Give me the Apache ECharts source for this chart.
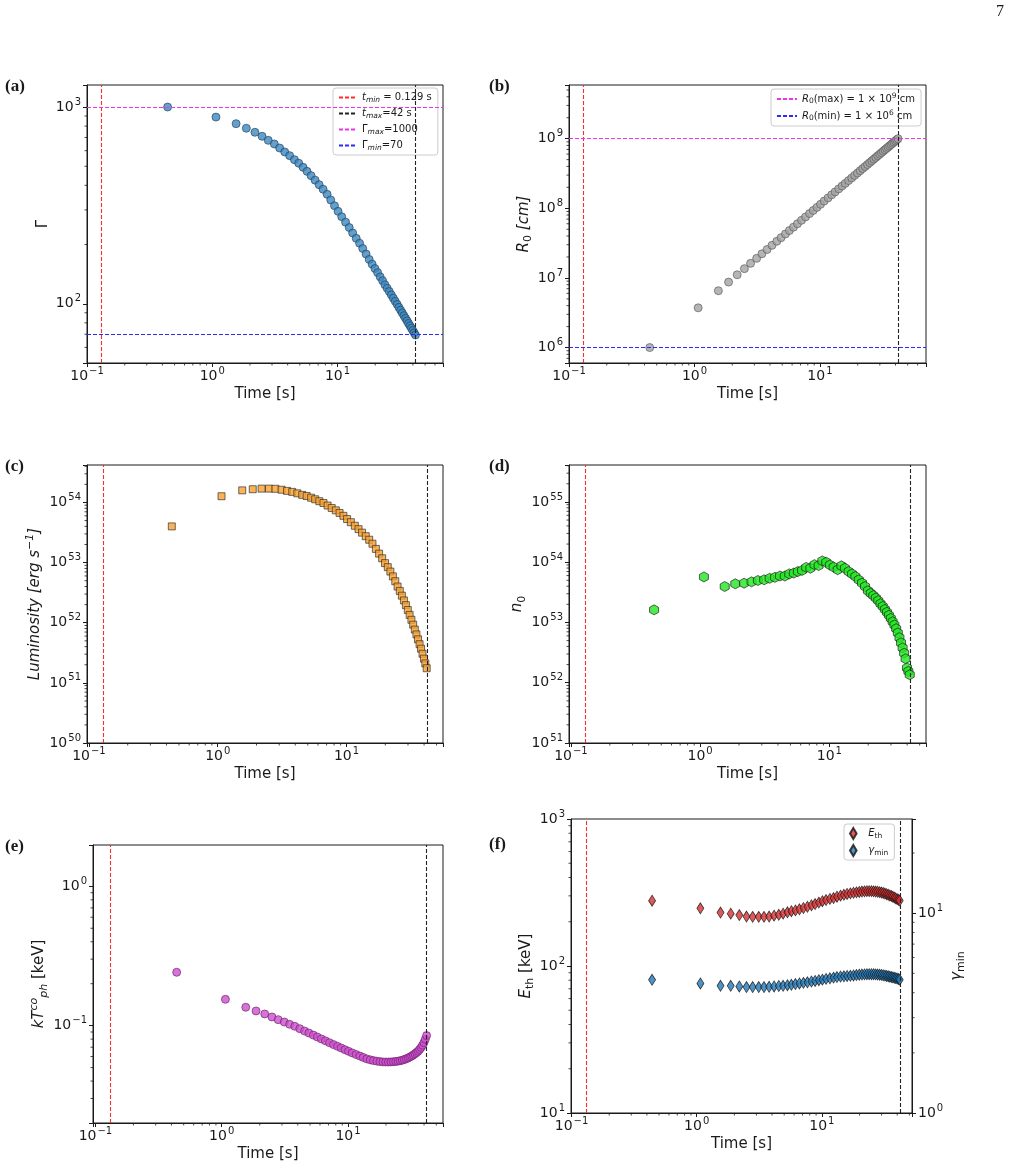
<!DOCTYPE html>
<html>
<head>
<meta charset="utf-8">
<script src="https://cdn.jsdelivr.net/npm/echarts@6/dist/echarts.min.js"></script>
<style>
  html, body { margin: 0; padding: 0; background: #fff; }
  #chart { width: 1014px; height: 1167px; }
</style>
</head>
<body>
<div id="chart"></div>
<script>
// time bins [s], shared by all panels
const time = [0.44, 1.07, 1.55, 1.87, 2.19, 2.50, 2.80, 3.13, 3.45, 3.79,
  4.15, 4.53, 4.90, 5.31, 5.71, 6.15, 6.62, 7.13, 7.67, 8.26,
  8.83, 9.46, 10.1, 10.8, 11.6, 12.4, 13.2, 14.1, 15.0, 15.9,
  16.9, 17.9, 18.9, 19.9, 20.9, 21.9, 22.9, 23.9, 24.9, 25.9,
  26.9, 27.9, 28.9, 29.9, 30.9, 31.9, 32.9, 33.9, 34.9, 35.9,
  36.9, 37.9, 38.9, 39.9, 40.9, 41.9];

// (a) bulk Lorentz factor
const gamma = [1000, 889, 823, 780, 744, 710, 677, 649, 619, 591,
  566, 540, 518, 494, 471, 448, 425, 403, 382, 360,
  337, 315, 295, 277, 260, 244, 229, 215, 203, 191,
  179, 168, 159, 151, 144, 137, 131, 125, 120, 115.4,
  110.9, 106.8, 102.9, 99.3, 95.9, 92.8, 89.8, 87.0, 84.4, 81.9,
  79.5, 77.3, 75.2, 73.1, 71.2, 69.4];

// (b) R0 [cm]
const radius = [1.0e6, 3.72e6, 6.55e6, 8.72e6, 1.11e7, 1.36e7, 1.62e7, 1.91e7, 2.22e7, 2.56e7,
  2.94e7, 3.36e7, 3.79e7, 4.28e7, 4.79e7, 5.36e7, 6.0e7, 6.72e7, 7.51e7, 8.41e7,
  9.31e7, 1.03e8, 1.14e8, 1.27e8, 1.41e8, 1.56e8, 1.72e8, 1.90e8, 2.09e8, 2.28e8,
  2.50e8, 2.73e8, 2.97e8, 3.21e8, 3.46e8, 3.72e8, 3.98e8, 4.25e8, 4.52e8, 4.80e8,
  5.09e8, 5.38e8, 5.68e8, 5.98e8, 6.29e8, 6.60e8, 6.92e8, 7.24e8, 7.56e8, 7.90e8,
  8.24e8, 8.58e8, 8.93e8, 9.28e8, 9.64e8, 1.0e9];

// (c) luminosity [erg/s]
const luminosity = [4.0e53, 1.27e54, 1.59e54, 1.66e54, 1.70e54, 1.70e54, 1.69e54, 1.63e54, 1.56e54, 1.50e54,
  1.42e54, 1.34e54, 1.28e54, 1.20e54, 1.13e54, 1.05e54, 9.8e53, 8.9e53, 8.1e53, 7.4e53,
  6.7e53, 6.0e53, 5.3e53, 4.7e53, 4.1e53, 3.6e53, 3.15e53, 2.75e53, 2.4e53, 2.06e53,
  1.69e53, 1.41e53, 1.18e53, 9.8e52, 8.4e52, 7.1e52, 5.9e52, 4.9e52, 4.0e52, 3.38e52,
  2.82e52, 2.35e52, 1.96e52, 1.63e52, 1.35e52, 1.12e52, 9.3e51, 7.7e51, 6.4e51, 5.3e51,
  4.4e51, 3.7e51, 3.05e51, 2.53e51, 2.11e51, 1.75e51];

// (d) n0
const density = [1.62e53, 5.7e53, 3.95e53, 4.38e53, 4.49e53, 4.72e53, 4.97e53, 5.1e53, 5.4e53, 5.6e53,
  5.9e53, 5.9e53, 6.4e53, 6.6e53, 7.0e53, 7.3e53, 8.2e53, 7.95e53, 9.1e53, 8.8e53,
  1.05e54, 1.0e54, 9.0e53, 8.3e53, 7.5e53, 8.7e53, 7.95e53, 7.0e53, 6.4e53, 5.8e53,
  5.1e53, 4.5e53, 3.95e53, 3.36e53, 3.05e53, 2.8e53, 2.55e53, 2.3e53, 2.05e53, 1.85e53,
  1.65e53, 1.48e53, 1.32e53, 1.17e53, 1.03e53, 9.1e52, 7.9e52, 6.7e52, 5.6e52, 4.6e52,
  3.8e52, 3.1e52, 2.5e52, 1.76e52, 1.55e52, 1.36e52];

// (e) comoving photospheric temperature [keV]
const kTph = [0.2415, 0.1545, 0.1355, 0.1274, 0.1213, 0.1154, 0.1104, 0.1062, 0.1022, 0.0989,
  0.0951, 0.0915, 0.0885, 0.0855, 0.0829, 0.0803, 0.0778, 0.0754, 0.0731, 0.0710,
  0.0691, 0.0672, 0.0654, 0.0637, 0.0620, 0.0605, 0.0591, 0.0577, 0.0568, 0.0561,
  0.0556, 0.0552, 0.0549, 0.0548, 0.0548, 0.0549, 0.0551, 0.0553, 0.0556, 0.0560,
  0.0565, 0.0571, 0.0578, 0.0586, 0.0595, 0.0605, 0.0616, 0.0628, 0.0641, 0.0656,
  0.0675, 0.0697, 0.0723, 0.0755, 0.0797, 0.0848];

// (f) E_th [keV] (left axis) and gamma_min (right axis)
const eTh = [278, 247, 231, 227, 222, 217, 216, 216, 216, 217,
  220, 223, 227, 232, 236, 239, 243, 248, 253, 259,
  264, 270, 276, 281, 286, 290, 296, 301, 305, 309,
  312, 315, 317, 319, 321, 322, 323, 323, 323, 322,
  321, 320, 318, 316, 314, 311, 308, 305, 302, 299,
  296, 292, 289, 285, 282, 279];
const gammaMin = [4.64, 4.45, 4.33, 4.33, 4.30, 4.27, 4.27, 4.27, 4.27, 4.28,
  4.30, 4.32, 4.33, 4.36, 4.38, 4.42, 4.45, 4.48, 4.51, 4.55,
  4.58, 4.62, 4.65, 4.69, 4.72, 4.76, 4.79, 4.82, 4.83, 4.85,
  4.86, 4.88, 4.90, 4.92, 4.93, 4.94, 4.95, 4.95, 4.95, 4.95,
  4.94, 4.93, 4.92, 4.91, 4.89, 4.87, 4.85, 4.83, 4.81, 4.79,
  4.77, 4.75, 4.73, 4.71, 4.68, 4.65];

// reference lines
const tMin = 0.129, tMax = 42;
const gammaMaxLine = 1000, gammaMinLine = 70;
const r0MaxLine = 1e9, r0MinLine = 1e6;

const FONT = 'DejaVu Sans';
const INK = '#1a1a1a';
const RED = '#ff2a2a', BLACK = '#222222', MAGENTA = '#ee33ee', BLUE = '#2b2bff';
const DASH = [4, 2];

// panel frames: left, top, width, height and axis ranges
const panels = [
  { box: [87, 85, 356, 278], x: [0.1, 69.5], y: [50, 1294], yGap: 32 },
  { box: [569, 85, 357, 278], x: [0.1, 70], y: [6e5, 5.9e9], yGap: 31 },
  { box: [87, 465, 356, 278], x: [0.0966, 56.1], y: [1e50, 4.2e54], yGap: 38 },
  { box: [569, 465, 357, 278], x: [0.0966, 56], y: [1e51, 4.1e55], yGap: 37 },
  { box: [93, 845, 350, 278], x: [0.0957, 56.5], y: [0.02, 1.98], yGap: 41 },
  { box: [571, 819, 341, 294], x: [0.099, 52.5], y: [10, 1000], yGap: 30 }
];
const rightY = [1, 29.6];

const yNames = [
  '{n|Γ}',
  '{it|R}{subr|0}{it| [cm]}',
  '{it|Luminosity [erg s}{sup|−1}{it|]}',
  '{it|n}{subr|0}',
  '{it|kT}{sup|co}{subl|ph}{n| [keV]}',
  '{it|E}{subr|th}{n| [keV]}'
];

function tickRich() {
  return {
    base: { fontSize: 14, fontFamily: FONT, color: INK, lineHeight: 20 },
    sup: { fontSize: 10, fontFamily: FONT, color: INK, lineHeight: 10, padding: [0, 0, 10, 1] }
  };
}
const nameRich = {
  n: { fontSize: 15, fontFamily: FONT, color: INK, lineHeight: 24 },
  it: { fontSize: 15, fontFamily: FONT, fontStyle: 'italic', color: INK, lineHeight: 24 },
  sub: { fontSize: 11, fontFamily: FONT, fontStyle: 'italic', color: INK, lineHeight: 11, padding: [9, 0, 0, 0] },
  subl: { fontSize: 11, fontFamily: FONT, fontStyle: 'italic', color: INK, lineHeight: 11, padding: [10, 0, 0, 0] },
  subr: { fontSize: 11, fontFamily: FONT, color: INK, lineHeight: 11, padding: [9, 0, 0, 0] },
  sup: { fontSize: 11, fontFamily: FONT, fontStyle: 'italic', color: INK, lineHeight: 11, padding: [0, 0, 10, 0] }
};

function powLabel(v) {
  const e = Math.log10(v);
  const r = Math.round(e);
  if (Math.abs(e - r) > 1e-6) return '';
  return '{base|10}{sup|' + (r < 0 ? '\u2212' + (-r) : r) + '}';
}

function minorValues(lo, hi) {
  const out = [];
  for (let e = Math.floor(Math.log10(lo)); e <= Math.ceil(Math.log10(hi)); e++) {
    for (let m = 2; m <= 9; m++) {
      const v = m * Math.pow(10, e);
      if (v > lo && v < hi) out.push(v);
    }
  }
  return out;
}

// small outward ticks at 2..9 x 10^n, drawn through the axes
function minorTicks(xi, yi, pts, dx, dy) {
  return {
    type: 'custom', xAxisIndex: xi, yAxisIndex: yi, silent: true, clip: false, z: 1,
    data: pts,
    renderItem: function (params, api) {
      const p = api.coord([api.value(0), api.value(1)]);
      return {
        type: 'line',
        shape: { x1: p[0], y1: p[1], x2: p[0] + dx, y2: p[1] + dy },
        style: { stroke: INK, lineWidth: 0.8 }
      };
    }
  };
}

const grids = [], xAxes = [], yAxes = [], series = [];

panels.forEach(function (p, i) {
  grids.push({ left: p.box[0], top: p.box[1], width: p.box[2], height: p.box[3],
    show: true, borderColor: INK, borderWidth: 1, containLabel: false });
  xAxes.push({
    type: 'log', gridIndex: i, min: p.x[0], max: p.x[1],
    name: 'Time [s]', nameLocation: 'middle', nameGap: 23,
    nameTextStyle: { fontSize: 15, fontFamily: FONT, color: INK },
    axisLine: { show: true, lineStyle: { color: INK, width: 1 } },
    axisTick: { show: true, inside: false, length: 4, lineStyle: { color: INK, width: 1 } },
    axisLabel: { margin: 3, formatter: powLabel, rich: tickRich(), hideOverlap: false },
    splitLine: { show: false }, minorTick: { show: false }
  });
  yAxes.push({
    type: 'log', gridIndex: i, min: p.y[0], max: p.y[1],
    name: yNames[i], nameLocation: 'middle', nameGap: p.yGap, nameRotate: 90,
    nameTextStyle: { rich: nameRich },
    axisLine: { show: true, lineStyle: { color: INK, width: 1 } },
    axisTick: { show: true, inside: false, length: 4, lineStyle: { color: INK, width: 1 } },
    axisLabel: { margin: 6, formatter: powLabel, rich: tickRich(), hideOverlap: false },
    splitLine: { show: false }
  });
  series.push(minorTicks(i, i, minorValues(p.x[0], p.x[1]).map(v => [v, p.y[0]]), 0, 2.5));
  series.push(minorTicks(i, i, minorValues(p.y[0], p.y[1]).map(v => [p.x[0], v]), -2.5, 0));
});

// right axis of panel (f)
yAxes.push({
  type: 'log', gridIndex: 5, position: 'right', min: rightY[0], max: rightY[1],
  name: '{it|γ}{subr|min}', nameLocation: 'middle', nameGap: 31, nameRotate: 90,
  nameTextStyle: { rich: nameRich },
  axisLine: { show: true, lineStyle: { color: INK, width: 1 } },
  axisTick: { show: true, inside: false, length: 4, lineStyle: { color: INK, width: 1 } },
  axisLabel: { margin: 6, formatter: powLabel, rich: tickRich(), hideOverlap: false },
  splitLine: { show: false }
});
series.push(minorTicks(5, 6, minorValues(rightY[0], rightY[1]).map(v => [panels[5].x[1], v]), 2.5, 0));

// each reference line is its own markLine item, built fresh for every series
function refLine(axis, value, color) {
  const item = { lineStyle: { color: color, type: DASH, width: 1.1 } };
  item[axis] = value;
  return item;
}
function marks(extra) {
  return {
    silent: true, symbol: ['none', 'none'], animation: false,
    label: { show: false },
    lineStyle: { type: DASH, width: 1.1 },
    data: [refLine('xAxis', tMin, RED), refLine('xAxis', tMax, BLACK)].concat(extra || [])
  };
}

function pts(ys) { return time.map((t, k) => [t, ys[k]]); }

// (a)
series.push({
  type: 'scatter', xAxisIndex: 0, yAxisIndex: 0, z: 3, data: pts(gamma),
  symbol: 'circle', symbolSize: 8,
  itemStyle: { color: '#3f87bf', borderColor: '#1c3d57', borderWidth: 0.8 },
  markLine: marks([refLine('yAxis', gammaMaxLine, MAGENTA), refLine('yAxis', gammaMinLine, BLUE)])
});
// (b)
series.push({
  type: 'scatter', xAxisIndex: 1, yAxisIndex: 1, z: 3, data: pts(radius),
  symbol: 'circle', symbolSize: 8,
  itemStyle: { color: '#a3a3a3', borderColor: '#555555', borderWidth: 0.8 },
  markLine: marks([refLine('yAxis', r0MaxLine, MAGENTA), refLine('yAxis', r0MinLine, BLUE)])
});
// (c)
series.push({
  type: 'scatter', xAxisIndex: 2, yAxisIndex: 2, z: 3, data: pts(luminosity),
  symbol: 'rect', symbolSize: 7,
  itemStyle: { color: '#f7a030', borderColor: '#222222', borderWidth: 0.8 },
  markLine: marks()
});
// (d)
series.push({
  type: 'scatter', xAxisIndex: 3, yAxisIndex: 3, z: 3, data: pts(density),
  symbol: 'path://M0,-10L8.66,-5L8.66,5L0,10L-8.66,5L-8.66,-5Z', symbolSize: [9, 10],
  itemStyle: { color: '#22e622', borderColor: '#111111', borderWidth: 0.8 },
  markLine: marks()
});
// (e)
series.push({
  type: 'scatter', xAxisIndex: 4, yAxisIndex: 4, z: 3, data: pts(kTph),
  symbol: 'circle', symbolSize: 8,
  itemStyle: { color: '#cc50cc', borderColor: '#6a1b6a', borderWidth: 0.8 },
  markLine: marks()
});
// (f)
const DIAMOND = 'path://M0,-10L6,0L0,10L-6,0Z';
series.push({
  name: 'eth', type: 'scatter', xAxisIndex: 5, yAxisIndex: 5, z: 3, data: pts(eTh),
  symbol: DIAMOND, symbolSize: [7, 11],
  itemStyle: { color: '#d63030', borderColor: '#111111', borderWidth: 0.8 },
  markLine: marks()
});
series.push({
  name: 'gmn', type: 'scatter', xAxisIndex: 5, yAxisIndex: 6, z: 3, data: pts(gammaMin),
  symbol: DIAMOND, symbolSize: [7, 11],
  itemStyle: { color: '#2078b8', borderColor: '#111111', borderWidth: 0.8 }
});

// empty line series that only feed the legends of (a) and (b)
function legendLine(name, gi, color) {
  return { name: name, type: 'line', xAxisIndex: gi, yAxisIndex: gi, data: [], symbol: 'none',
    lineStyle: { color: color, type: DASH, width: 1.2 },
    itemStyle: { color: 'rgba(0,0,0,0)', borderWidth: 0 } };
}
series.push(legendLine('a_tmin', 0, RED), legendLine('a_tmax', 0, BLACK),
  legendLine('a_gmax', 0, MAGENTA), legendLine('a_gmin', 0, BLUE),
  legendLine('b_rmax', 1, MAGENTA), legendLine('b_rmin', 1, BLUE));

const legendText = {
  a_tmin: '{it|t}{sub|min}{n| = 0.129 s}',
  a_tmax: '{it|t}{sub|max}{n|=42 s}',
  a_gmax: '{n|Γ}{sub|max}{n|=1000}',
  a_gmin: '{n|Γ}{sub|min}{n|=70}',
  b_rmax: '{it|R}{subr|0}{n|(max) = 1 × 10}{sup|9}{n| cm}',
  b_rmin: '{it|R}{subr|0}{n|(min) = 1 × 10}{sup|6}{n| cm}',
  eth: '{it|E}{subr|th}',
  gmn: '{it|γ}{subr|min}'
};
const legendRich = {
  n: { fontSize: 10, fontFamily: FONT, color: INK, lineHeight: 13 },
  it: { fontSize: 10, fontFamily: FONT, fontStyle: 'italic', color: INK, lineHeight: 13 },
  sub: { fontSize: 7.5, fontFamily: FONT, fontStyle: 'italic', color: INK, lineHeight: 8, padding: [5, 0, 0, 0] },
  subr: { fontSize: 7.5, fontFamily: FONT, color: INK, lineHeight: 8, padding: [5, 0, 0, 0] },
  sup: { fontSize: 7.5, fontFamily: FONT, color: INK, lineHeight: 8, padding: [0, 0, 6, 0] }
};
function legendBox(names, left, top, w, h, gap) {
  return {
    data: names, left: left, top: top, orient: 'vertical', itemWidth: w, itemHeight: h, itemGap: gap,
    padding: [3, 6, 3, 5], borderColor: '#cccccc', borderWidth: 1, borderRadius: 3,
    backgroundColor: 'rgba(255,255,255,0.85)', selectedMode: false,
    formatter: name => legendText[name],
    textStyle: { rich: legendRich }
  };
}

const option = {
  animation: false,
  backgroundColor: '#ffffff',
  grid: grids,
  xAxis: xAxes,
  yAxis: yAxes,
  legend: [
    Object.assign(legendBox(['a_tmin', 'a_tmax', 'a_gmax', 'a_gmin'], 333, 88, 18, 10, 3), {
      itemStyle: { opacity: 0 }
    }),
    Object.assign(legendBox(['b_rmax', 'b_rmin'], 771, 89, 20, 10, 3), {
      itemStyle: { opacity: 0 }
    }),
    Object.assign(legendBox(['eth', 'gmn'], 844, 824, 20, 11, 4), {
      data: [{ name: 'eth', icon: DIAMOND }, { name: 'gmn', icon: DIAMOND }]
    })
  ],
  graphic: [
    { type: 'text', left: 5, top: 78, style: { text: '(a)', font: 'bold 17px "Liberation Serif"', fill: INK } },
    { type: 'text', left: 489, top: 78, style: { text: '(b)', font: 'bold 17px "Liberation Serif"', fill: INK } },
    { type: 'text', left: 5, top: 458, style: { text: '(c)', font: 'bold 17px "Liberation Serif"', fill: INK } },
    { type: 'text', left: 489, top: 458, style: { text: '(d)', font: 'bold 17px "Liberation Serif"', fill: INK } },
    { type: 'text', left: 5, top: 838, style: { text: '(e)', font: 'bold 17px "Liberation Serif"', fill: INK } },
    { type: 'text', left: 489, top: 836, style: { text: '(f)', font: 'bold 17px "Liberation Serif"', fill: INK } },
    { type: 'text', left: 996, top: 4, style: { text: '7', font: '16px "Liberation Serif"', fill: INK } }
  ],
  series: series
};

const chart = echarts.init(document.getElementById('chart'), null, { renderer: 'canvas' });
chart.setOption(option);
</script>
</body>
</html>
